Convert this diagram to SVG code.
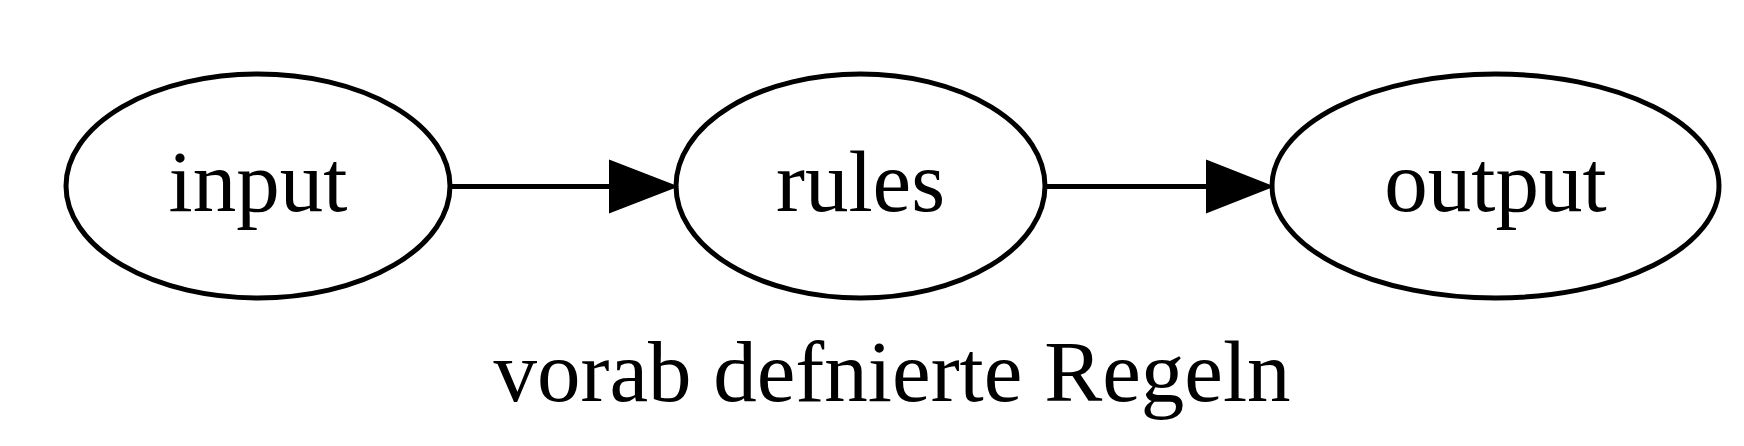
<svg xmlns="http://www.w3.org/2000/svg" width="1744" height="446" viewBox="0 0 1744 446">
<style>
.node ellipse{fill:none;stroke:#000;stroke-width:5}
text{font-family:"Liberation Serif","Times New Roman",serif;font-size:87px;fill:#000;text-anchor:middle}
.edge line{stroke:#000;stroke-width:5}
.edge polygon{fill:#000;stroke:#000;stroke-width:2}
</style>
<rect width="1744" height="446" fill="#fff"/>
<g id="node-input" class="node">
<ellipse cx="258" cy="186" rx="192" ry="112"/>
<text x="258" y="211">input</text>
</g>
<g id="node-rules" class="node">
<ellipse cx="860.5" cy="186" rx="184.5" ry="112"/>
<text x="860.5" y="211">rules</text>
</g>
<g id="node-output" class="node">
<ellipse cx="1495.5" cy="186" rx="223.5" ry="112"/>
<text x="1495.5" y="211">output</text>
</g>
<g id="connectors" class="edge">
<line x1="450" y1="186.5" x2="612" y2="186.5"/>
<polygon points="610,161 676,186.5 610,212"/>
<line x1="1045" y1="186.5" x2="1209" y2="186.5"/>
<polygon points="1207,161 1272,186.5 1207,212"/>
</g>
<g id="graph-label">
<text x="892" y="401">vorab defnierte Regeln</text>
</g>
</svg>
